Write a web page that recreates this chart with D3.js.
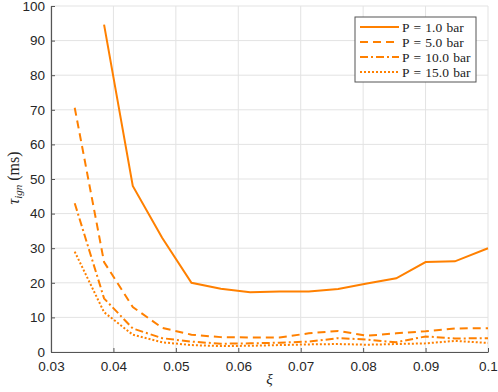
<!DOCTYPE html>
<html>
<head>
<meta charset="utf-8">
<script src="https://cdn.jsdelivr.net/npm/d3@7"></script>
<style>
  body { margin: 0; background: #fff; }
  svg { display: block; }
</style>
</head>
<body>
<div id="chart"></div>
<script>
const WIDTH = 498;
const HEIGHT = 392;
const MARGIN = { top: 6, right: 10, bottom: 40, left: 51 };

const xi = [0.0338, 0.0385, 0.0431, 0.0478, 0.0525, 0.0572, 0.0619, 0.0666,
            0.0713, 0.0760, 0.0806, 0.0853, 0.0900, 0.0947, 0.1000];
const tauP1 = [null, 94.6, 48.0, 33.0, 20.0, 18.3, 17.3, 17.5, 17.5, 18.2, 19.8, 21.3, 26.0, 26.2, 30.0];
const tauP5 = [70.6, 26.0, 13.0, 7.0, 5.0, 4.3, 4.2, 4.2, 5.4, 6.1, 4.7, 5.4, 6.0, 6.8, 6.9];
const tauP10 = [43.0, 15.5, 6.8, 4.0, 3.0, 2.4, 2.5, 2.7, 3.0, 4.0, 3.6, 2.8, 4.5, 3.9, 4.0];
const tauP15 = [29.0, 11.5, 5.0, 2.8, 2.0, 1.7, 1.8, 2.0, 2.2, 2.3, 2.1, 2.3, 2.5, 3.2, 2.6];

const seriesNames = ["P = 1.0 bar", "P = 5.0 bar", "P = 10.0 bar", "P = 15.0 bar"];
const seriesValues = [tauP1, tauP5, tauP10, tauP15];
const dashes = [null, "8,5", "8,3,2,3", "2,2"];

const xTicks = [0.03, 0.04, 0.05, 0.06, 0.07, 0.08, 0.09, 0.1];
const yTicks = [0, 10, 20, 30, 40, 50, 60, 70, 80, 90, 100];

const ORANGE = "#ff8000";

const svg = d3.select("#chart").append("svg")
  .attr("width", WIDTH)
  .attr("height", HEIGHT);

const x = d3.scaleLinear().domain([0.03, 0.1]).range([MARGIN.left, WIDTH - MARGIN.right]);
const y = d3.scaleLinear().domain([0, 100]).range([HEIGHT - MARGIN.bottom, MARGIN.top]);

// grid
svg.append("g")
  .selectAll("line")
  .data(xTicks)
  .join("line")
  .attr("x1", d => x(d)).attr("x2", d => x(d))
  .attr("y1", y(0)).attr("y2", y(100))
  .attr("stroke", "#e3e3e3").attr("stroke-width", 1);
svg.append("g")
  .selectAll("line")
  .data(yTicks)
  .join("line")
  .attr("x1", x(0.03)).attr("x2", x(0.1))
  .attr("y1", d => y(d)).attr("y2", d => y(d))
  .attr("stroke", "#e3e3e3").attr("stroke-width", 1);

// axes
const xAxis = svg.append("g")
  .attr("transform", `translate(0,${y(0)})`)
  .call(d3.axisBottom(x).tickValues(xTicks).tickSizeInner(-4).tickSizeOuter(0).tickPadding(9)
    .tickFormat(d => d === 0.1 ? "0.1" : d3.format(".2f")(d)));
const yAxis = svg.append("g")
  .attr("transform", `translate(${x(0.03)},0)`)
  .call(d3.axisLeft(y).tickValues(yTicks).tickSizeInner(-4).tickSizeOuter(0).tickPadding(6));

[xAxis, yAxis].forEach(g => {
  g.select(".domain").attr("stroke", "#555").attr("stroke-width", 1.2);
  g.selectAll(".tick line").attr("stroke", "#555");
  g.selectAll(".tick text")
    .attr("fill", "#262626")
    .style("font-family", "'Liberation Sans', Arial, sans-serif")
    .style("font-size", "13.5px");
});

// lines
const line = d3.line()
  .defined(d => d[1] !== null)
  .x(d => x(d[0]))
  .y(d => y(d[1]));

seriesValues.forEach((vals, i) => {
  svg.append("path")
    .datum(xi.map((v, k) => [v, vals[k]]))
    .attr("d", line)
    .attr("fill", "none")
    .attr("stroke", ORANGE)
    .attr("stroke-width", 2)
    .attr("stroke-dasharray", dashes[i]);
});

// labels
svg.append("text")
  .attr("x", (MARGIN.left + WIDTH - MARGIN.right) / 2)
  .attr("y", 384)
  .attr("text-anchor", "middle")
  .style("font-family", "'Liberation Serif', serif")
  .style("font-style", "italic")
  .style("font-size", "15px")
  .attr("fill", "#262626")
  .text("ξ");

const yl = svg.append("text")
  .attr("transform", "translate(19,178) rotate(-90)")
  .attr("text-anchor", "middle")
  .style("font-family", "'Liberation Serif', serif")
  .style("font-size", "16px")
  .attr("fill", "#262626");
yl.append("tspan").style("font-style", "italic").text("τ");
yl.append("tspan").style("font-style", "italic").style("font-size", "11px").attr("dy", 3).text("ign");
yl.append("tspan").attr("dy", -3).text(" (ms)");

// legend
const legend = svg.append("g").attr("transform", "translate(355,17)");
legend.append("rect")
  .attr("width", 121).attr("height", 65)
  .attr("fill", "#fff").attr("stroke", "#555").attr("stroke-width", 1);
seriesNames.forEach((name, i) => {
  const ly = 10 + i * 15;
  legend.append("line")
    .attr("x1", 5).attr("x2", 44)
    .attr("y1", ly).attr("y2", ly)
    .attr("stroke", ORANGE).attr("stroke-width", 2)
    .attr("stroke-dasharray", dashes[i]);
  legend.append("text")
    .attr("x", 47).attr("y", ly + 4.5)
    .style("font-family", "'Liberation Serif', serif")
    .style("font-size", "13.5px")
    .style("word-spacing", "1px")
    .attr("fill", "#222")
    .text(name);
});
</script>
</body>
</html>
